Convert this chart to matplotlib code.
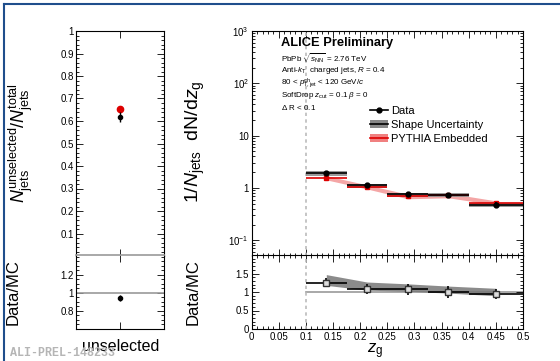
import numpy as np
import matplotlib
matplotlib.use("Agg")
import matplotlib.pyplot as plt
from matplotlib.lines import Line2D
from matplotlib.patches import Patch, Rectangle
from matplotlib.ticker import MultipleLocator, FixedLocator, NullFormatter

plt.rcParams['font.family'] = ['Liberation Sans', 'DejaVu Sans']
plt.rcParams['mathtext.fontset'] = 'custom'
plt.rcParams['mathtext.rm'] = 'Liberation Sans'
plt.rcParams['mathtext.it'] = 'Liberation Sans:italic'
plt.rcParams['mathtext.bf'] = 'Liberation Sans:bold'

# left panel: fraction of unselected jets
frac_data = 0.618
frac_data_err = 0.022
frac_mc = 0.652
frac_ratio = 0.945
frac_ratio_err = 0.03

# right panel: zg distribution
bin_edges = [0.1, 0.175, 0.25, 0.325, 0.4, 0.5]
data_y = [1.95, 1.15, 0.78, 0.74, 0.48]
data_err = [0.10, 0.07, 0.06, 0.07, 0.05]
shape_y = [1.92, 1.10, 0.74, 0.74, 0.47]
shape_rel = [0.11, 0.09, 0.09, 0.09, 0.10]
pythia_y = [1.57, 1.05, 0.69, 0.72, 0.52]
pythia_rel = [0.09, 0.09, 0.10, 0.10, 0.09]

ratio_y = [1.25, 1.08, 1.07, 1.00, 0.95]
ratio_err = [0.12, 0.13, 0.15, 0.15, 0.13]
ratio_band_lo = [1.18, 1.05, 1.02, 0.97, 0.90]
ratio_band_hi = [1.47, 1.27, 1.22, 1.16, 1.10]

edges = np.array(bin_edges)
centers = 0.5 * (edges[:-1] + edges[1:])
halfw = 0.5 * np.diff(edges)

fig = plt.figure(figsize=(5.6, 3.61), dpi=100)
W, H = 560.0, 361.0

def box(x0, x1, y0, y1):
    return [x0 / W, 1 - y1 / H, (x1 - x0) / W, (y1 - y0) / H]

ax_lt = fig.add_axes(box(76.5, 164.5, 31, 256))
ax_lb = fig.add_axes(box(76.5, 164.5, 255, 329))
ax_rt = fig.add_axes(box(251.7, 523, 31, 256))
ax_rb = fig.add_axes(box(251.7, 523, 255, 329))

for ax in (ax_lt, ax_lb, ax_rt, ax_rb):
    ax.tick_params(which='both', direction='in', top=True, right=True,
                   labelsize=7, pad=2, width=0.6)
    ax.tick_params(which='major', length=5)
    ax.tick_params(which='minor', length=2.5)
    for s in ax.spines.values():
        s.set_linewidth(0.8)

# ---- left top
ax_lt.set_xlim(0, 1)
ax_lt.set_ylim(0, 1)
ax_lt.yaxis.set_major_locator(FixedLocator(np.arange(0.1, 1.01, 0.1)))
ax_lt.yaxis.set_minor_locator(MultipleLocator(0.02))
ax_lt.set_yticklabels(['0.1', '0.2', '0.3', '0.4', '0.5', '0.6', '0.7', '0.8', '0.9', '1'])
ax_lt.set_xticks([0.5])
ax_lt.set_xticklabels([])
ax_lt.errorbar([0.5], [frac_data], yerr=[frac_data_err], fmt='o', color='black',
               ms=3, elinewidth=1, capsize=0, zorder=3)
ax_lt.plot([0.5], [frac_mc], 'o', color='#dd0000', ms=4.5, zorder=2)
ax_lt.set_ylabel(r'$N_{\rm jets}^{\rm unselected}/N_{\rm jets}^{\rm total}$', fontsize=13)
ax_lt.yaxis.set_label_coords(-0.47, 0.5)

# ---- left bottom
ax_lb.set_xlim(0, 1)
ax_lb.set_ylim(0.6, 1.42)
ax_lb.yaxis.set_major_locator(FixedLocator([0.8, 1.0, 1.2]))
ax_lb.yaxis.set_minor_locator(MultipleLocator(0.05))
ax_lb.set_yticklabels(['0.8', '1', '1.2'])
ax_lb.set_xticks([0.5])
ax_lb.set_xticklabels(['unselected'], fontsize=11.5)
ax_lb.tick_params(axis='x', pad=7)
ax_lb.axhline(1.0, color='#999999', lw=1.2)
ax_lb.spines['top'].set_color('#999999')
ax_lb.spines['top'].set_linewidth(1.2)
ax_lb.errorbar([0.5], [frac_ratio], yerr=[frac_ratio_err], fmt='o', color='black',
               ms=3, elinewidth=1, capsize=0, zorder=3)
ax_lb.set_ylabel('Data/MC', fontsize=12)
ax_lb.yaxis.set_label_coords(-0.64, 0.5)

# ---- right top
ax_rt.set_yscale('log')
ax_rt.set_xlim(0, 0.5)
ax_rt.set_ylim(0.05, 1000)
ax_rt.xaxis.set_major_locator(MultipleLocator(0.05))
ax_rt.xaxis.set_minor_locator(MultipleLocator(0.01))
ax_rt.xaxis.set_major_formatter(NullFormatter())
ax_rt.yaxis.set_major_locator(FixedLocator([0.1, 1, 10, 100, 1000]))
ax_rt.set_yticklabels([r'$10^{-1}$', '1', '10', r'$10^{2}$', r'$10^{3}$'])
ax_rt.yaxis.set_minor_formatter(NullFormatter())
ax_rt.axvline(0.1, color='#bbbbbb', ls=(0, (2, 2)), lw=1.2)

# pythia band
p = np.array(pythia_y)
pr = np.array(pythia_rel)
ax_rt.fill_between(centers, p * (1 - pr), p * (1 + pr), color='#f08080', alpha=0.7,
                   lw=0, zorder=1)
# shape uncertainty boxes
for i in range(len(centers)):
    lo = shape_y[i] * (1 - shape_rel[i])
    hi = shape_y[i] * (1 + shape_rel[i])
    ax_rt.add_patch(Rectangle((edges[i], lo), edges[i + 1] - edges[i], hi - lo,
                              facecolor='#888888', edgecolor='none', alpha=0.85, zorder=2))
ax_rt.errorbar(centers, pythia_y, xerr=halfw, fmt='s', color='#dd0000', ms=3.5,
               elinewidth=1.2, capsize=0, zorder=3)
ax_rt.errorbar(centers, data_y, xerr=halfw, yerr=data_err, fmt='o', color='black',
               ms=3.5, elinewidth=1.2, capsize=0, zorder=4)
ax_rt.set_ylabel(r'$1/N_{\rm jets}$  dN/d$z_{\rm g}$', fontsize=14)
ax_rt.yaxis.set_label_coords(-0.163, 0.51)

ax_rt.text(0.108, 0.947, 'ALICE Preliminary', transform=ax_rt.transAxes,
           fontsize=9.3, fontweight='bold', va='center')
info = [r'PbPb $\sqrt{s_{\rm NN}}$ = 2.76 TeV',
        r'Anti-$k_{\rm T}$  charged jets, $R$ = 0.4',
        r'80 < $p_{\rm T,jet}^{\rm ch}$ < 120 GeV/$c$',
        r'SoftDrop $z_{\rm cut}$ = 0.1 $\beta$ = 0',
        r'$\Delta$ R < 0.1']
for k, line in enumerate(info):
    ax_rt.text(0.108, 0.88 - k * 0.0553, line, transform=ax_rt.transAxes,
               fontsize=5.8, va='center')

handles = [Line2D([], [], color='black', marker='o', ms=3.5, lw=1.2),
           (Patch(facecolor='#888888', edgecolor='none'), Line2D([], [], color='black', lw=1.2)),
           (Patch(facecolor='#f08080', edgecolor='none'), Line2D([], [], color='#dd0000', lw=1.2))]
ax_rt.legend(handles, ['Data', 'Shape Uncertainty', 'PYTHIA Embedded'],
             loc='upper left', bbox_to_anchor=(0.437, 0.665), frameon=False,
             fontsize=8, handlelength=1.6, handletextpad=0.3, labelspacing=0.35,
             borderaxespad=0, borderpad=0)

# ---- right bottom
ax_rb.set_xlim(0, 0.5)
ax_rb.set_ylim(0, 2)
ax_rb.xaxis.set_major_locator(MultipleLocator(0.05))
ax_rb.xaxis.set_minor_locator(MultipleLocator(0.01))
ax_rb.set_xticks(np.arange(0, 0.501, 0.05))
ax_rb.set_xticklabels(['0', '0.05', '0.1', '0.15', '0.2', '0.25', '0.3', '0.35',
                       '0.4', '0.45', '0.5'])
ax_rb.yaxis.set_major_locator(FixedLocator([0, 0.5, 1, 1.5]))
ax_rb.set_yticklabels(['0', '0.5', '1', '1.5'])
ax_rb.yaxis.set_minor_locator(MultipleLocator(0.1))
ax_rb.axvline(0.1, color='#bbbbbb', ls=(0, (2, 2)), lw=1.2)
ax_rb.plot([0.1, 0.5], [1, 1], color='#999999', lw=1.2, zorder=1)
ax_rb.fill_between(centers, ratio_band_lo, ratio_band_hi, color='#777777', alpha=0.85,
                   lw=0, zorder=2)
ax_rb.errorbar(centers, ratio_y, xerr=halfw, yerr=ratio_err, fmt='s', color='black',
               mfc='#dddddd', mec='#333333', ms=4, elinewidth=1.2, capsize=0, zorder=3)
ax_rb.set_ylabel('Data/MC', fontsize=12)
ax_rb.yaxis.set_label_coords(-0.187, 0.5)
ax_rb.set_xlabel(r'$z_{\rm g}$', fontsize=12, labelpad=-2)
ax_rb.xaxis.set_label_coords(0.455, -0.17)

# watermark and frame
fig.text(10 / W, 1 - 353 / H, 'ALI-PREL-148233', family='Liberation Mono',
         fontweight='bold', fontsize=8.4, color='#b5b5b5', va='center', zorder=0)
fig.add_artist(Line2D([4 / W, 1], [1 - 4 / H, 1 - 4 / H], color='#1f4e8c', lw=1.5))
fig.add_artist(Line2D([4 / W, 4 / W], [0, 1 - 4 / H], color='#1f4e8c', lw=1.5))

fig.savefig('out.png', dpi=100)
